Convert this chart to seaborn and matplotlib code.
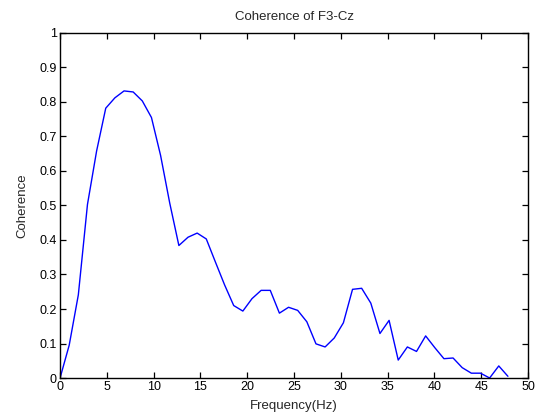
import numpy as np
import pandas as pd
import matplotlib
matplotlib.use("Agg")
import matplotlib.pyplot as plt
import seaborn as sns

# frequency bins (Hz): k * 1000/1024
bin_index = list(range(50))
coherence = [0.0, 0.095, 0.241, 0.503, 0.658, 0.782, 0.812, 0.832, 0.829, 0.803,
             0.755, 0.645, 0.507, 0.384, 0.408, 0.420, 0.403, 0.336, 0.270, 0.210,
             0.194, 0.230, 0.254, 0.254, 0.188, 0.205, 0.196, 0.163, 0.099, 0.090,
             0.116, 0.160, 0.257, 0.260, 0.217, 0.129, 0.167, 0.052, 0.090, 0.077,
             0.122, 0.088, 0.056, 0.058, 0.030, 0.014, 0.014, 0.000, 0.035, 0.005]
freq = [k * 1000.0 / 1024.0 for k in bin_index]

xticks = [0, 5, 10, 15, 20, 25, 30, 35, 40, 45, 50]
yticks = [0, 0.1, 0.2, 0.3, 0.4, 0.5, 0.6, 0.7, 0.8, 0.9, 1]
ytick_labels = ["0", "0.1", "0.2", "0.3", "0.4", "0.5", "0.6", "0.7", "0.8", "0.9", "1"]

df = pd.DataFrame({"Frequency": freq, "Coherence": coherence})

sns.set_theme(style="white")
plt.rcParams["font.family"] = ["Liberation Sans", "DejaVu Sans"]

fig = plt.figure(figsize=(5.41, 4.12), dpi=100)
ax = fig.add_axes([0.111, 0.0825, 0.865, 0.8375])
sns.lineplot(data=df, x="Frequency", y="Coherence", ax=ax, color=(0, 0, 1), linewidth=1.0)

ax.set_xlim(0, 50)
ax.set_ylim(0, 1)
ax.set_xticks(xticks)
ax.set_xticklabels([str(t) for t in xticks])
ax.set_yticks(yticks)
ax.set_yticklabels(ytick_labels)
ax.tick_params(direction="in", length=4, width=0.9, top=True, right=True,
               bottom=True, left=True, labelsize=9, colors="black", pad=2.5)
for s in ax.spines.values():
    s.set_visible(True)
    s.set_color("black")
    s.set_linewidth(1.0)
ax.set_title("Coherence of F3-Cz", fontsize=9.5, pad=9)
ax.set_xlabel("Frequency(Hz)", fontsize=9.5, labelpad=5)
ax.set_ylabel("Coherence", fontsize=9.5, labelpad=7.5)

fig.savefig("out.png", dpi=100, facecolor="white")
